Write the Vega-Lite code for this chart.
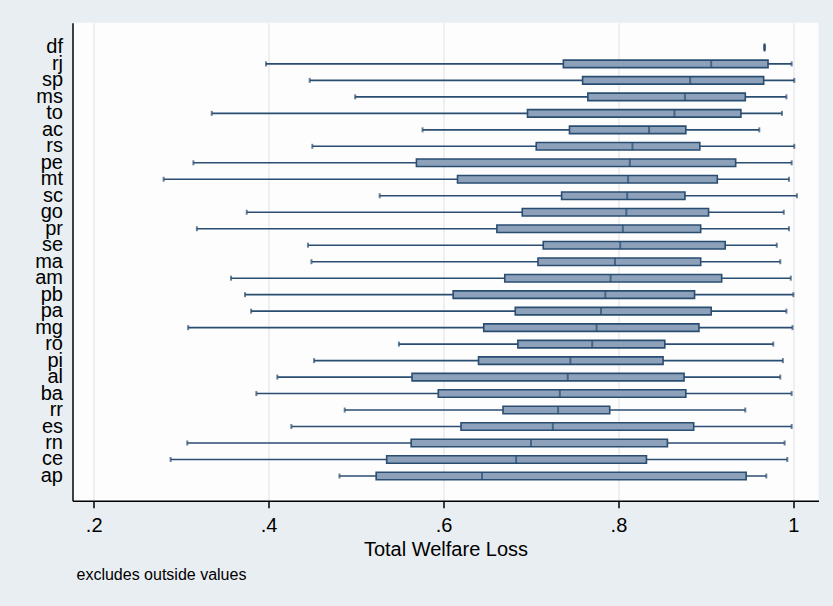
{
  "$schema": "https://vega.github.io/schema/vega-lite/v6.json",
  "width": 746,
  "height": 478,
  "autosize": "none",
  "padding": {"left": 72.5, "top": 22.7, "right": 14.5, "bottom": 105.3},
  "background": "#e9eef2",
  "config": {
    "font": "Liberation Sans",
    "view": {"fill": "#fdfdfd", "stroke": null},
    "axis": {"labelColor": "#000000", "titleColor": "#000000", "labelFont": "Liberation Sans", "titleFont": "Liberation Sans"}
  },
  "title": {
    "text": "excludes outside values",
    "orient": "bottom",
    "anchor": "start",
    "frame": "group",
    "fontSize": 16,
    "fontWeight": "normal",
    "color": "#000000",
    "dx": 4,
    "offset": 7
  },
  "data": {
    "values": [
      {"state": "df", "lw": 0.967, "q1": 0.967, "med": 0.967, "q3": 0.967, "uw": 0.967},
      {"state": "rj", "lw": 0.397, "q1": 0.737, "med": 0.906, "q3": 0.971, "uw": 0.998},
      {"state": "sp", "lw": 0.447, "q1": 0.759, "med": 0.882, "q3": 0.966, "uw": 1.001},
      {"state": "ms", "lw": 0.499, "q1": 0.765, "med": 0.876, "q3": 0.945, "uw": 0.992},
      {"state": "to", "lw": 0.335, "q1": 0.696, "med": 0.864, "q3": 0.940, "uw": 0.987},
      {"state": "ac", "lw": 0.576, "q1": 0.744, "med": 0.835, "q3": 0.877, "uw": 0.961},
      {"state": "rs", "lw": 0.450, "q1": 0.706, "med": 0.816, "q3": 0.893, "uw": 1.001},
      {"state": "pe", "lw": 0.314, "q1": 0.569, "med": 0.813, "q3": 0.934, "uw": 0.998},
      {"state": "mt", "lw": 0.280, "q1": 0.616, "med": 0.811, "q3": 0.913, "uw": 0.995},
      {"state": "sc", "lw": 0.527, "q1": 0.735, "med": 0.810, "q3": 0.876, "uw": 1.004},
      {"state": "go", "lw": 0.375, "q1": 0.690, "med": 0.809, "q3": 0.903, "uw": 0.989},
      {"state": "pr", "lw": 0.318, "q1": 0.661, "med": 0.805, "q3": 0.894, "uw": 0.995},
      {"state": "se", "lw": 0.445, "q1": 0.714, "med": 0.802, "q3": 0.922, "uw": 0.981},
      {"state": "ma", "lw": 0.449, "q1": 0.708, "med": 0.796, "q3": 0.894, "uw": 0.985},
      {"state": "am", "lw": 0.357, "q1": 0.670, "med": 0.791, "q3": 0.918, "uw": 0.997},
      {"state": "pb", "lw": 0.373, "q1": 0.611, "med": 0.785, "q3": 0.887, "uw": 1.000},
      {"state": "pa", "lw": 0.380, "q1": 0.682, "med": 0.780, "q3": 0.906, "uw": 0.992},
      {"state": "mg", "lw": 0.308, "q1": 0.646, "med": 0.775, "q3": 0.892, "uw": 0.999},
      {"state": "ro", "lw": 0.549, "q1": 0.685, "med": 0.770, "q3": 0.853, "uw": 0.977},
      {"state": "pi", "lw": 0.452, "q1": 0.640, "med": 0.745, "q3": 0.851, "uw": 0.988},
      {"state": "al", "lw": 0.410, "q1": 0.564, "med": 0.742, "q3": 0.875, "uw": 0.985},
      {"state": "ba", "lw": 0.386, "q1": 0.594, "med": 0.733, "q3": 0.877, "uw": 0.998},
      {"state": "rr", "lw": 0.487, "q1": 0.668, "med": 0.731, "q3": 0.790, "uw": 0.945},
      {"state": "es", "lw": 0.426, "q1": 0.620, "med": 0.725, "q3": 0.886, "uw": 0.998},
      {"state": "rn", "lw": 0.307, "q1": 0.563, "med": 0.700, "q3": 0.856, "uw": 0.990},
      {"state": "ce", "lw": 0.288, "q1": 0.535, "med": 0.683, "q3": 0.832, "uw": 0.993},
      {"state": "ap", "lw": 0.481, "q1": 0.523, "med": 0.644, "q3": 0.946, "uw": 0.969}
    ]
  },
  "encoding": {
    "y": {
      "field": "state",
      "type": "nominal",
      "sort": null,
      "scale": {"type": "band", "paddingInner": 0, "paddingOuter": 1.2},
      "axis": {
        "title": null,
        "ticks": false,
        "labelFontSize": 20,
        "labelPadding": 10,
        "domainColor": "#000000",
        "domainWidth": 1.5,
        "grid": false,
        "labelBaseline": "middle"
      }
    }
  },
  "layer": [
    {
      "mark": {"type": "rule", "color": "#2a4d72", "strokeWidth": 1.6},
      "encoding": {
        "x": {
          "field": "lw",
          "type": "quantitative",
          "scale": {"domain": [0.1758, 1.0287], "nice": false, "zero": false},
          "axis": {
            "title": "Total Welfare Loss",
            "titleFontSize": 20,
            "titleFontWeight": "normal",
            "titlePadding": 4,
            "values": [0.2, 0.4, 0.6, 0.8, 1],
            "labelExpr": "datum.value >= 0.999 ? '1' : replace(format(datum.value, '.1f'), '0.', '.')",
            "labelFontSize": 20,
            "labelPadding": 8,
            "tickSize": 7,
            "tickColor": "#000000",
            "tickWidth": 1.5,
            "domainColor": "#000000",
            "domainWidth": 1.5,
            "grid": true,
            "gridColor": "#e8eaec",
            "gridWidth": 1.5
          }
        },
        "x2": {"field": "uw"}
      }
    },
    {
      "mark": {"type": "tick", "color": "#2a4d72", "thickness": 2, "size": 5, "orient": "vertical"},
      "encoding": {"x": {"field": "lw", "type": "quantitative"}}
    },
    {
      "mark": {"type": "tick", "color": "#2a4d72", "thickness": 2, "size": 5, "orient": "vertical"},
      "encoding": {"x": {"field": "uw", "type": "quantitative"}}
    },
    {
      "mark": {"type": "bar", "fill": "#8da2ba", "stroke": "#2a4d72", "strokeWidth": 1.6, "size": 7.5},
      "encoding": {
        "x": {"field": "q1", "type": "quantitative"},
        "x2": {"field": "q3"}
      }
    },
    {
      "mark": {"type": "tick", "color": "#2a4d72", "thickness": 2, "size": 8, "orient": "vertical"},
      "encoding": {"x": {"field": "med", "type": "quantitative"}}
    }
  ]
}
